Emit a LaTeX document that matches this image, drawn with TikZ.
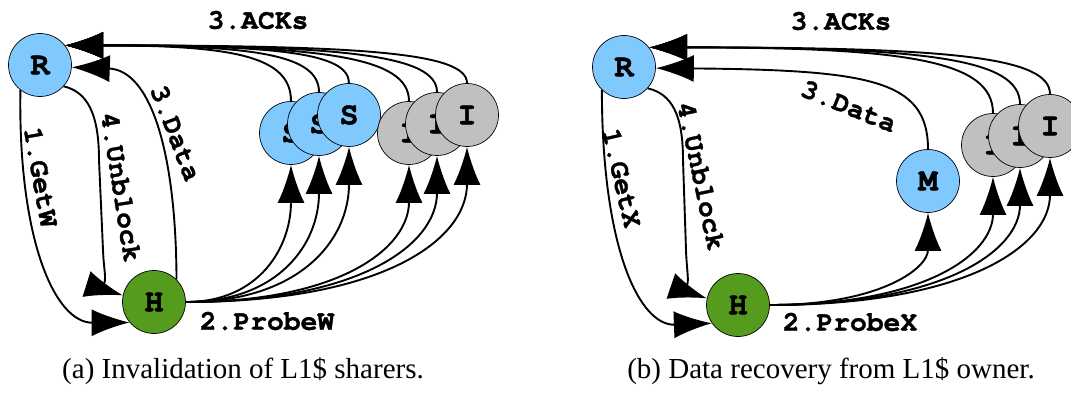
\documentclass[tikz,border=0pt]{standalone}
\usepackage{fontspec}
\setmainfont{Liberation Serif}
\newfontfamily\cour{texgyrecursor}[Extension=.otf,UprightFont=*-regular,BoldFont=*-bold,BoldFeatures={FakeBold=1.2}]
\usetikzlibrary{arrows.meta,calc}
\definecolor{nblue}{RGB}{128,201,255}
\definecolor{ngreen}{RGB}{84,155,30}
\definecolor{ngray}{RGB}{192,192,192}
\tikzset{
  st/.style={circle,draw=black,line width=0.7pt,minimum size=63pt,inner sep=0pt,font=\cour\bfseries\fontsize{32}{32}\selectfont},
  lbl/.style={font=\cour\bfseries\fontsize{28}{28}\selectfont,inner sep=0pt},
  bigtip/.tip={Latex[length=38pt,width=27pt]},
  arr/.style={line width=1.9pt,-bigtip},
  captext/.style={font=\fontsize{29}{32}\selectfont,inner sep=0pt}}
\begin{document}
\begin{tikzpicture}[x=1pt,y=-1pt]
\useasboundingbox (0,0) rectangle (1071,393);
\clip (0,0) rectangle (1071,393);
% ---------- (a) ----------
\node[st,fill=nblue] (R) at (40,65) {R};
\node[st,fill=ngreen] (H) at (154,302) {H};
\node[st,fill=nblue] (S1) at (291,133) {S};
\node[st,fill=nblue] (S2) at (319,124) {S};
\node[st,fill=nblue] (S3) at (349,115) {S};
\node[st,fill=ngray] (I1) at (409,133) {I};
\node[st,fill=ngray] (I2) at (437,124) {I};
\node[st,fill=ngray] (I3) at (467,115) {I};
\draw[arr] (R.232) .. controls (18,240) and (55,323) .. (H.220);
\draw[arr] (R.318) .. controls (88,92) and (99,115) .. (99,160) -- (103,250) .. controls (104,280) and (112,292) .. (H.168);
\draw[arr] (H.45) .. controls (176,150) and (150,70) .. (R.-4);
\foreach \n in {S1,S2,S3,I1,I2,I3} {
  \draw[arr] (\n.north) .. controls ($(\n.north)!0.8!(\n.north |- R.38)$) and ($(R.38)!0.75!(R.38 -| \n.north)$) .. (R.38);
  \draw[arr] (H.east) .. controls ($(H.east)!0.7!(H.east -| \n.south)$) and ($(\n.south)!0.6!(\n.south |- H.east)$) .. (\n.south);
}
\node[lbl] (ackA) at (258,20) {3.ACKs};
\node[lbl] (probeA) at (267,321) {2.ProbeW};
\node[lbl,rotate=-80] (getA) at (41,177) {1.GetW};
\node[lbl,rotate=-81] (unbA) at (121,187) {4.Unblock};
\node[lbl,rotate=-69] (datA) at (176,133) {3.Data};
\node[captext] (capA) at (243,371) {(a) Invalidation of L1\$ sharers.};
% ---------- (b) ----------
\node[st,fill=nblue] (R2) at (624,67) {R};
\node[st,fill=ngreen] (H2) at (738,305) {H};
\node[st,fill=nblue] (M) at (928,181) {M};
\node[st,fill=ngray] (J1) at (993,145) {I};
\node[st,fill=ngray] (J2) at (1020,136) {I};
\node[st,fill=ngray] (J3) at (1050,126) {I};
\draw[arr] (R2.226) .. controls (602,250) and (640,326) .. (H2.215);
\draw[arr] (R2.318) .. controls (672,94) and (683,115) .. (683,160) -- (686,250) .. controls (687,282) and (694,294) .. (H2.168);
\draw[arr] (M.north) .. controls (928,80) and (870,70) .. (R2.-2);
\foreach \n in {M,J1,J2,J3} {
  \draw[arr] (H2.east) .. controls ($(H2.east)!0.7!(H2.east -| \n.south)$) and ($(\n.south)!0.6!(\n.south |- H2.east)$) .. (\n.south);
}
\foreach \n in {J1,J2,J3} {
  \draw[arr] (\n.north) .. controls ($(\n.north)!0.8!(\n.north |- R2.38)$) and ($(R2.38)!0.75!(R2.38 -| \n.north)$) .. (R2.38);
}
\node[lbl] (ackB) at (841,21) {3.ACKs};
\node[lbl] (probeB) at (850,322) {2.ProbeX};
\node[lbl,rotate=-77] (getB) at (622,178) {1.GetX};
\node[lbl,rotate=-78] (unbB) at (701,176) {4.Unblock};
\node[lbl,rotate=-22] (datB) at (849,106) {3.Data};
\node[captext] (capB) at (831,371) {(b) Data recovery from L1\$ owner.};
\end{tikzpicture}
\end{document}
